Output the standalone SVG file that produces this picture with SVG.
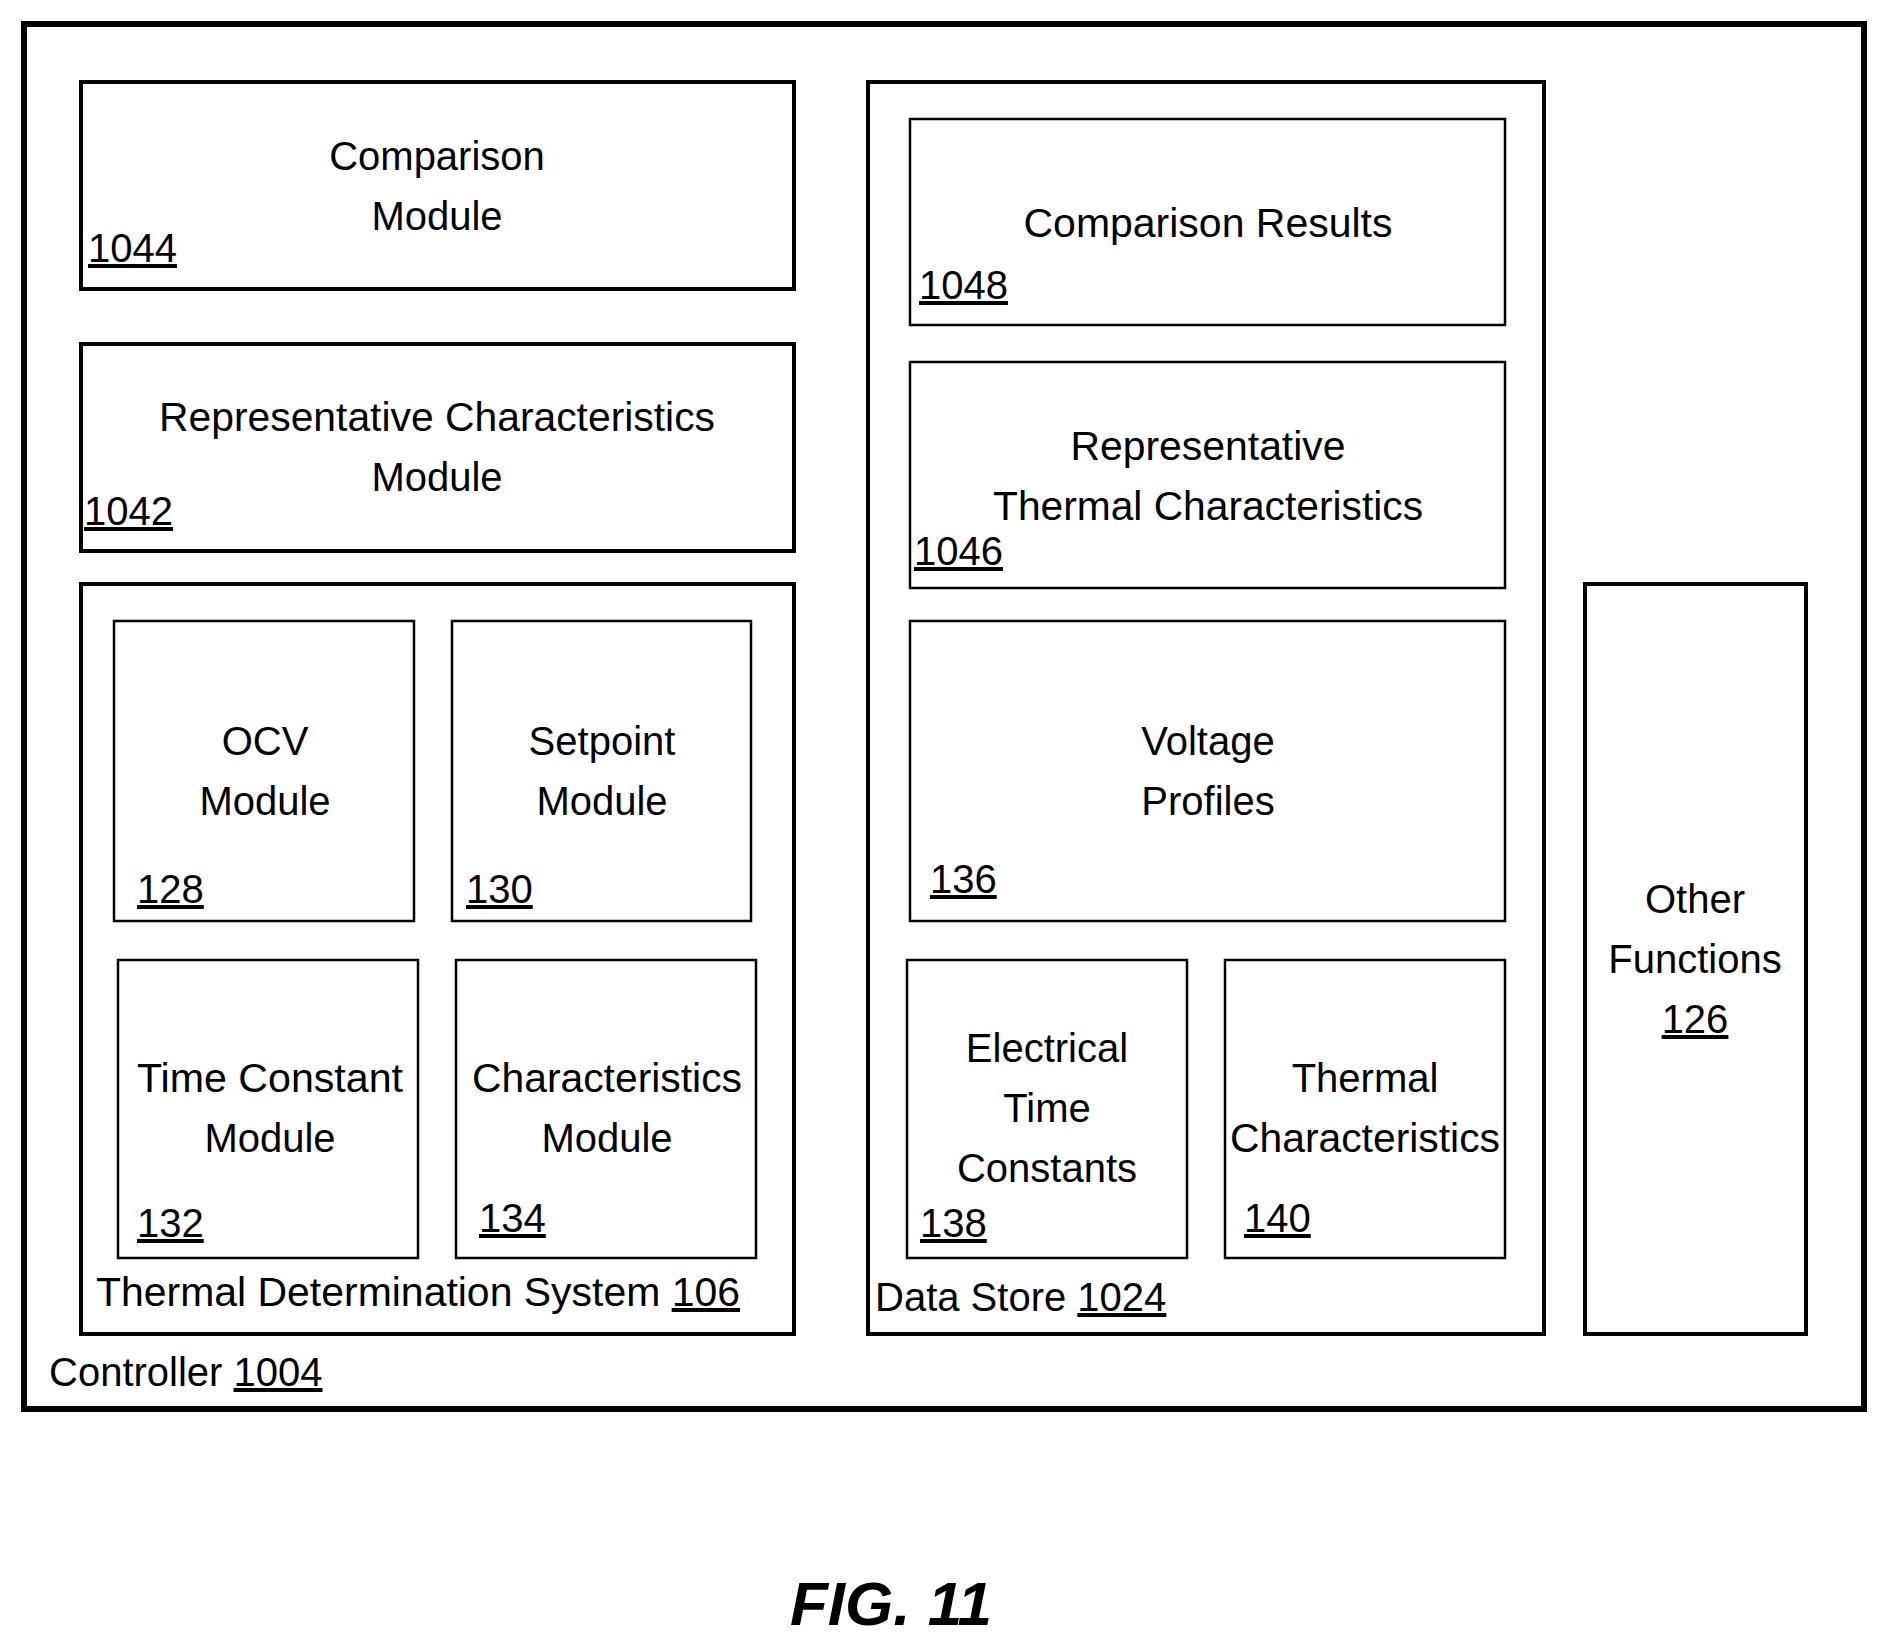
<svg xmlns="http://www.w3.org/2000/svg" width="1888" height="1649" viewBox="0 0 1888 1649">
<style>
rect{fill:#fff;stroke:#000}
.o{stroke-width:6}.m{stroke-width:4}.i{stroke-width:2.5}
text{font-family:"Liberation Sans",Arial,sans-serif;font-size:40px;fill:#000}
.c{text-anchor:middle}
.u{text-decoration:underline}
</style>
<rect width="1888" height="1649" style="stroke:none"/>
<g id="controller"><rect class="o" x="24" y="24" width="1840" height="1385"/>
<text x="49" y="1386">Controller <tspan class="u">1004</tspan></text></g>
<g id="comparison-module"><rect class="m" x="81" y="82" width="713" height="207"/>
<text class="c" x="437" y="170">Comparison</text><text class="c" x="437" y="230">Module</text>
<text class="u" x="88" y="262">1044</text></g>
<g id="rep-char-module"><rect class="m" x="81" y="344" width="713" height="207"/>
<text class="c" x="437" y="431" textLength="556" lengthAdjust="spacingAndGlyphs">Representative Characteristics</text><text class="c" x="437" y="491">Module</text>
<text class="u" x="84" y="525">1042</text></g>
<g id="tds"><rect class="m" x="81" y="584" width="713" height="750"/>
<text x="96" y="1306" textLength="644" lengthAdjust="spacingAndGlyphs">Thermal Determination System <tspan class="u">106</tspan></text></g>
<g id="ocv"><rect class="i" x="114" y="621" width="300" height="300"/>
<text class="c" x="265" y="755">OCV</text><text class="c" x="265" y="815">Module</text><text class="u" x="137" y="903">128</text></g>
<g id="setpoint"><rect class="i" x="452" y="621" width="299" height="300"/>
<text class="c" x="602" y="755">Setpoint</text><text class="c" x="602" y="815">Module</text><text class="u" x="466" y="903">130</text></g>
<g id="timeconst"><rect class="i" x="118" y="960" width="300" height="298"/>
<text class="c" x="270" y="1092" textLength="266" lengthAdjust="spacingAndGlyphs">Time Constant</text><text class="c" x="270" y="1152">Module</text><text class="u" x="137" y="1237">132</text></g>
<g id="charmod"><rect class="i" x="456" y="960" width="300" height="298"/>
<text class="c" x="607" y="1092" textLength="270" lengthAdjust="spacingAndGlyphs">Characteristics</text><text class="c" x="607" y="1152">Module</text><text class="u" x="479" y="1232">134</text></g>
<g id="datastore"><rect class="m" x="868" y="82" width="676" height="1252"/>
<text x="875" y="1311">Data Store <tspan class="u">1024</tspan></text></g>
<g id="compresults"><rect class="i" x="910" y="119" width="595" height="206"/>
<text class="c" x="1208" y="237" textLength="369" lengthAdjust="spacingAndGlyphs">Comparison Results</text><text class="u" x="919" y="299">1048</text></g>
<g id="repthermal"><rect class="i" x="910" y="362" width="595" height="226"/>
<text class="c" x="1208" y="460" textLength="275" lengthAdjust="spacingAndGlyphs">Representative</text><text class="c" x="1208" y="520" textLength="430" lengthAdjust="spacingAndGlyphs">Thermal Characteristics</text><text class="u" x="914" y="565">1046</text></g>
<g id="voltage"><rect class="i" x="910" y="621" width="595" height="300"/>
<text class="c" x="1208" y="755">Voltage</text><text class="c" x="1208" y="815">Profiles</text><text class="u" x="930" y="893">136</text></g>
<g id="electrical"><rect class="i" x="907" y="960" width="280" height="298"/>
<text class="c" x="1047" y="1062">Electrical</text><text class="c" x="1047" y="1122">Time</text><text class="c" x="1047" y="1182">Constants</text><text class="u" x="920" y="1237">138</text></g>
<g id="thermalchar"><rect class="i" x="1225" y="960" width="280" height="298"/>
<text class="c" x="1365" y="1092">Thermal</text><text class="c" x="1365" y="1152" textLength="270" lengthAdjust="spacingAndGlyphs">Characteristics</text><text class="u" x="1244" y="1232">140</text></g>
<g id="other"><rect class="m" x="1585" y="584" width="221" height="750"/>
<text class="c" x="1695" y="913">Other</text><text class="c" x="1695" y="973">Functions</text><text class="c u" x="1695" y="1033">126</text></g>
<g id="connectors"/>
<text class="c" x="891" y="1625" style="font-size:62px;font-weight:bold;font-style:italic">FIG. 11</text>
</svg>
